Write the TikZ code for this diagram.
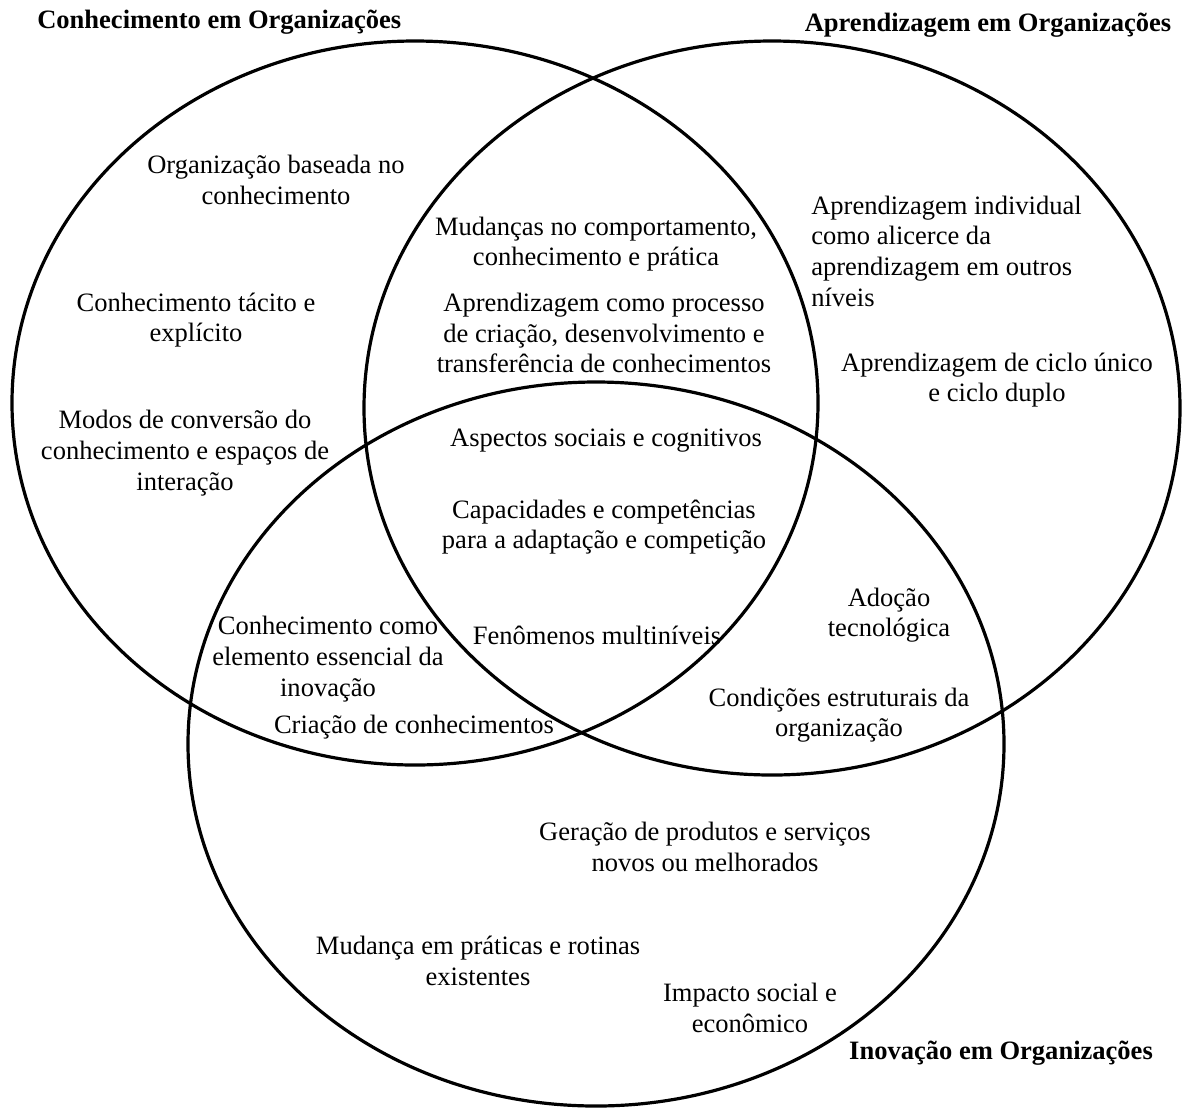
\documentclass[tikz,border=0pt]{standalone}
\usepackage{fontspec}
\setmainfont{Liberation Serif}
\usepackage{tikz}

\tikzset{
  venn/.style={line width=2.4pt},
  txt/.style={align=center, inner sep=0.75pt, font=\fontsize{19.9}{23}\selectfont},
  ttl/.style={inner sep=0.75pt, font=\fontsize{19.9}{23}\selectfont\bfseries}
}

\begin{document}
\begin{tikzpicture}[x=0.75pt,y=0.75pt,yscale=-1,xscale=1]
        \useasboundingbox (0,0) rectangle (1182,1108);

        %Shape: Ellipse [Conhecimento]
        \draw [venn] (415,403) ellipse [x radius=403, y radius=362];
        %Shape: Ellipse [Aprendizagem]
        \draw [venn] (772,408) ellipse [x radius=408, y radius=367];
        %Shape: Ellipse [Inovacao]
        \draw [venn] (596,744) ellipse [x radius=408, y radius=362];

        % Titles
        \draw (36,22) node (ttlConh) [ttl, anchor=west] {Conhecimento em Organizações};
        \draw (988,25) node (ttlApren) [ttl] {Aprendizagem em Organizações};
        \draw (1001,1053) node (ttlInov) [ttl] {Inovação em Organizações};

        % Text Node: Conhecimento
        \draw (276,180) node (orgBase) [txt] {Organização baseada no\\conhecimento};
        % Text Node
        \draw (196,320) node (tacito) [txt] {Conhecimento tácito e\\explícito};
        % Text Node
        \draw (185,453) node (modos) [txt] {Modos de conversão do\\conhecimento e espaços de\\interação};

        % Text Node: Conhecimento e Aprendizagem
        \draw (596,244) node (mudComp) [txt] {Mudanças no comportamento,\\conhecimento e prática};
        % Text Node
        \draw (604,333) node (aprProc) [txt] {Aprendizagem como processo\\de criação, desenvolvimento e\\transferência de conhecimentos};

        % Text Node: Aprendizagem
        \draw (810,251) node (aprInd) [txt, align=left, anchor=west] {Aprendizagem individual\\como alicerce da\\aprendizagem em outros\\níveis};
        % Text Node
        \draw (997,380) node (ciclo) [txt] {Aprendizagem de ciclo único\\e ciclo duplo};

        % Text Node: centro
        \draw (606,441) node (aspectos) [txt] {Aspectos sociais e cognitivos};
        % Text Node
        \draw (604,527) node (capac) [txt] {Capacidades e competências\\para a adaptação e competição};
        % Text Node
        \draw (597,635) node (fenom) [txt] {Fenômenos multiníveis};

        % Text Node: Conhecimento e Inovacao
        \draw (328,659) node (conhElem) [txt] {Conhecimento como\\elemento essencial da\\inovação};
        % Text Node
        \draw (414,727) node (criacao) [txt] {Criação de conhecimentos};

        % Text Node: Aprendizagem e Inovacao
        \draw (889,615) node (adocao) [txt] {Adoção\\tecnológica};
        % Text Node
        \draw (839,715) node (condic) [txt] {Condições estruturais da\\organização};

        % Text Node: Inovacao
        \draw (705,847) node (geracao) [txt] {Geração de produtos e serviços\\novos ou melhorados};
        % Text Node
        \draw (478,961) node (mudPrat) [txt] {Mudança em práticas e rotinas\\existentes};
        % Text Node
        \draw (750,1008) node (impacto) [txt] {Impacto social e\\econômico};

    \end{tikzpicture}
\end{document}
